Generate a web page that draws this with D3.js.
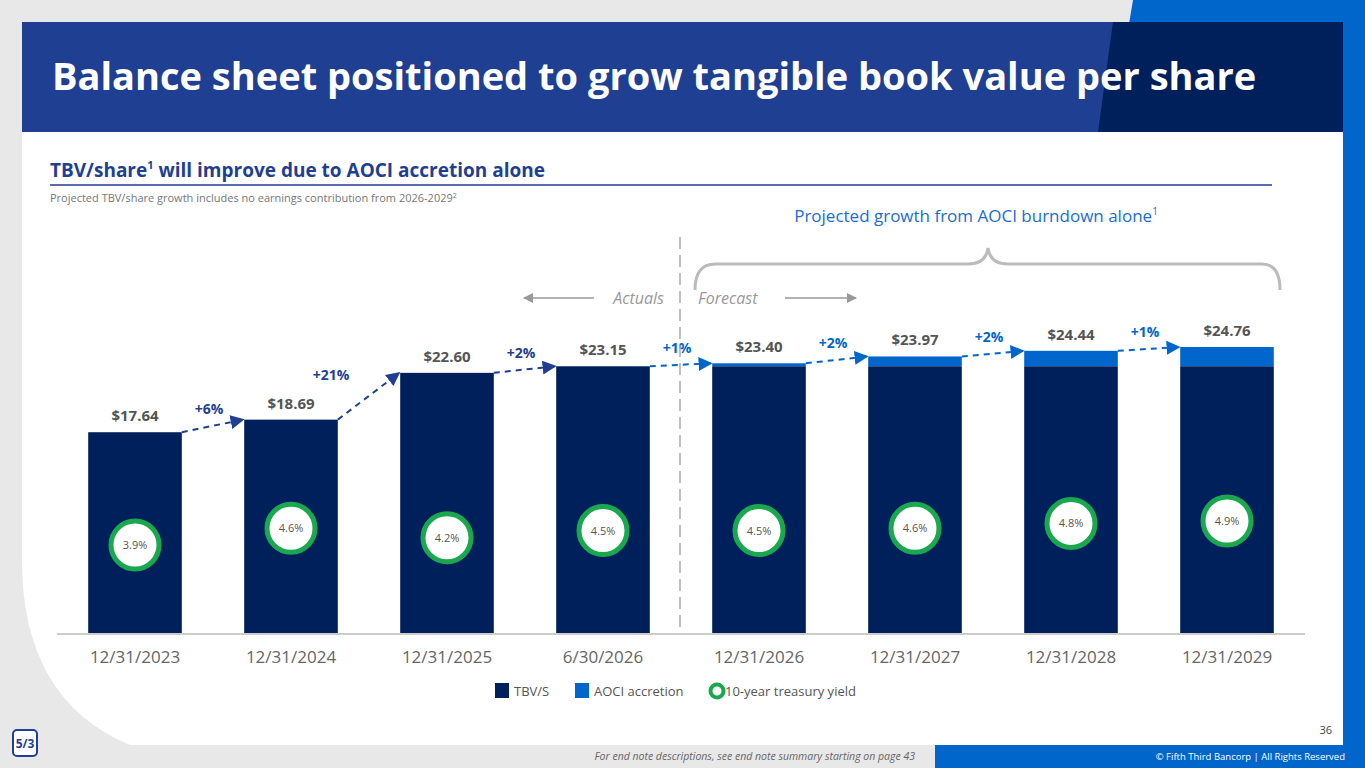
<!DOCTYPE html>
<html><head><meta charset="utf-8">
<script src="https://cdn.jsdelivr.net/npm/d3@7"></script>
<style>body{margin:0;background:#e8e8e8;font-family:"Open Sans",sans-serif}</style>
</head><body><div id="chart"></div>
<script>
// Data
const periods = ["12/31/2023","12/31/2024","12/31/2025","6/30/2026","12/31/2026","12/31/2027","12/31/2028","12/31/2029"];
const tbvs = [17.64, 18.69, 22.60, 23.15, 23.15, 23.15, 23.15, 23.15];
const totals = [17.64, 18.69, 22.60, 23.15, 23.40, 23.97, 24.44, 24.76];
const valueLabels = ["$17.64","$18.69","$22.60","$23.15","$23.40","$23.97","$24.44","$24.76"];
const growth = ["+6%","+21%","+2%","+1%","+2%","+2%","+1%"];
const yields = [3.9, 4.6, 4.2, 4.5, 4.5, 4.6, 4.8, 4.9];

const W = 1365, H = 768;
const navy = "#00205b", blue = "#0066cc", green = "#1aa84f", grey = "#666";
const svg = d3.select("#chart").append("svg").attr("width", W).attr("height", H);

svg.append("defs").selectAll("marker").data([["arNavy", "#1f3f93"], ["arBlue", blue], ["arGrey", "#999"]])
  .enter().append("marker").attr("id", d => d[0]).attr("viewBox", "0 0 10 10")
  .attr("refX", 9).attr("refY", 5).attr("markerWidth", 7).attr("markerHeight", 7).attr("orient", "auto")
  .append("path").attr("d", "M0,0L10,5L0,10z").attr("fill", d => d[1]);

// slide frame
svg.append("rect").attr("width", W).attr("height", H).attr("fill", "#e8e8e8");
svg.append("path").attr("d", "M1133,0L1365,0L1365,30L1128,30z").attr("fill", blue);
svg.append("rect").attr("x", 1340).attr("y", 0).attr("width", 25).attr("height", H).attr("fill", blue);
svg.append("rect").attr("x", 935).attr("y", 744).attr("width", 430).attr("height", 24).attr("fill", blue);
svg.append("path").attr("d", "M22,22L1343,22L1343,745L130,745Q22,700 22,560z").attr("fill", "#fff");
svg.append("rect").attr("x", 22).attr("y", 22).attr("width", 1321).attr("height", 110).attr("fill", "#1f3f93");
svg.append("path").attr("d", "M1113,22L1343,22L1343,132L1098,132z").attr("fill", navy);
svg.append("text").attr("x", 52).attr("y", 90).attr("fill", "#fff").attr("font-size", 38).attr("font-weight", 700)
  .text("Balance sheet positioned to grow tangible book value per share");

const sub = svg.append("text").attr("x", 50).attr("y", 177).attr("fill", "#1f3f93").attr("font-size", 19).attr("font-weight", 700);
sub.append("tspan").text("TBV/share");
sub.append("tspan").attr("font-size", 11).attr("dy", -8).text("1");
sub.append("tspan").attr("dy", 8).text(" will improve due to AOCI accretion alone");
svg.append("line").attr("x1", 50).attr("x2", 1272).attr("y1", 185).attr("y2", 185).attr("stroke", "#5b6bb0").attr("stroke-width", 2);
const note = svg.append("text").attr("x", 50).attr("y", 202).attr("fill", "#777").attr("font-size", 11);
note.append("tspan").text("Projected TBV/share growth includes no earnings contribution from 2026-2029");
note.append("tspan").attr("font-size", 7).attr("dy", -4).text("2");

// scales
const x = d3.scaleBand().domain(periods).range([57, 1305]).paddingInner(0.4).paddingOuter(0.2);
const y = d3.scaleLinear().domain([0.78, 24.76]).range([634, 347]);
const ry = d3.scaleLinear().domain([3.9, 4.9]).range([545, 521]);

// bars
svg.selectAll(".aoci").data(periods).enter().append("rect")
  .attr("x", d => x(d)).attr("width", x.bandwidth())
  .attr("y", (d, i) => y(totals[i])).attr("height", (d, i) => y(tbvs[i]) - y(totals[i])).attr("fill", blue);
svg.selectAll(".tbv").data(periods).enter().append("rect")
  .attr("x", d => x(d)).attr("width", x.bandwidth())
  .attr("y", (d, i) => y(tbvs[i])).attr("height", (d, i) => y.range()[0] - y(tbvs[i])).attr("fill", navy);

svg.append("line").attr("x1", 57).attr("x2", 1305).attr("y1", 634).attr("y2", 634).attr("stroke", "#ccc").attr("stroke-width", 2);
svg.selectAll(".xl").data(periods).enter().append("text")
  .attr("x", d => x(d) + x.bandwidth() / 2).attr("y", 663).attr("text-anchor", "middle")
  .attr("fill", grey).attr("font-size", 17).text(d => d);

svg.selectAll(".vl").data(periods).enter().append("text")
  .attr("x", d => x(d) + x.bandwidth() / 2).attr("y", (d, i) => y(totals[i]) - 11).attr("text-anchor", "middle")
  .attr("fill", "#555").attr("font-size", 15).attr("font-weight", 700).text((d, i) => valueLabels[i]);

// growth arrows
growth.forEach((g, i) => {
  const x1 = x(periods[i]) + x.bandwidth(), x2 = x(periods[i + 1]);
  const y1 = y(totals[i]), y2 = y(totals[i + 1]);
  const fc = i < 3;
  svg.append("line").attr("x1", x1).attr("y1", y1).attr("x2", x2 - 1).attr("y2", y2)
    .attr("stroke", fc ? "#1f3f93" : blue).attr("stroke-width", 2).attr("stroke-dasharray", "6,5")
    .attr("marker-end", fc ? "url(#arNavy)" : "url(#arBlue)");
  svg.append("text").attr("x", (x1 + x2) / 2 - (i === 1 ? 38 : 4)).attr("y", (y1 + y2) / 2 - (i === 1 ? 16 : 12))
    .attr("text-anchor", "middle").attr("fill", fc ? "#1f3f93" : blue)
    .attr("font-size", 14).attr("font-weight", 700).text(g);
});

// treasury yield rings
svg.selectAll(".ring").data(yields).enter().append("circle")
  .attr("cx", (d, i) => x(periods[i]) + x.bandwidth() / 2).attr("cy", d => ry(d)).attr("r", 24)
  .attr("fill", "#fff").attr("stroke", green).attr("stroke-width", 5);
svg.selectAll(".rl").data(yields).enter().append("text")
  .attr("x", (d, i) => x(periods[i]) + x.bandwidth() / 2).attr("y", d => ry(d) + 4).attr("text-anchor", "middle")
  .attr("fill", "#555").attr("font-size", 11).text(d => d.toFixed(1) + "%");

// actuals / forecast divider
svg.append("line").attr("x1", 680).attr("x2", 680).attr("y1", 237).attr("y2", 632)
  .attr("stroke", "#aaa").attr("stroke-width", 1.5).attr("stroke-dasharray", "12,6");
svg.append("text").attr("x", 664).attr("y", 304).attr("text-anchor", "end").attr("fill", "#999")
  .attr("font-size", 16).attr("font-style", "italic").text("Actuals");
svg.append("text").attr("x", 698).attr("y", 304).attr("fill", "#999")
  .attr("font-size", 16).attr("font-style", "italic").text("Forecast");
svg.append("line").attr("x1", 594).attr("x2", 524).attr("y1", 298).attr("y2", 298).attr("stroke", "#999").attr("stroke-width", 1.5).attr("marker-end", "url(#arGrey)");
svg.append("line").attr("x1", 785).attr("x2", 856).attr("y1", 298).attr("y2", 298).attr("stroke", "#999").attr("stroke-width", 1.5).attr("marker-end", "url(#arGrey)");

// brace
svg.append("path").attr("d", "M695,290Q695,264 715,264L968,264Q986,264 988,248Q990,264 1008,264L1262,264Q1280,264 1280,290")
  .attr("fill", "none").attr("stroke", "#bbb").attr("stroke-width", 3);
const pg = svg.append("text").attr("x", 976).attr("y", 222).attr("text-anchor", "middle").attr("fill", "#1a6ecf").attr("font-size", 17);
pg.append("tspan").text("Projected growth from AOCI burndown alone");
pg.append("tspan").attr("font-size", 10).attr("dy", -7).text("1");

// legend
const lg = svg.append("g").attr("transform", "translate(495,683)");
lg.append("rect").attr("width", 14).attr("height", 15).attr("fill", navy);
lg.append("text").attr("x", 19).attr("y", 13).attr("fill", "#555").attr("font-size", 13).text("TBV/S");
lg.append("rect").attr("x", 80).attr("width", 14).attr("height", 15).attr("fill", blue);
lg.append("text").attr("x", 99).attr("y", 13).attr("fill", "#555").attr("font-size", 13).text("AOCI accretion");
lg.append("circle").attr("cx", 222).attr("cy", 8).attr("r", 6.5).attr("fill", "#fff").attr("stroke", green).attr("stroke-width", 4);
lg.append("text").attr("x", 230).attr("y", 13).attr("fill", "#555").attr("font-size", 13).text("10-year treasury yield");

// footer
svg.append("text").attr("x", 1332).attr("y", 734).attr("text-anchor", "end").attr("fill", "#444").attr("font-size", 11).text("36");
svg.append("text").attr("x", 915).attr("y", 760).attr("text-anchor", "end").attr("fill", "#666").attr("font-size", 10.5)
  .attr("font-style", "italic").text("For end note descriptions, see end note summary starting on page 43");
svg.append("text").attr("x", 1345).attr("y", 760).attr("text-anchor", "end").attr("fill", "#fff").attr("font-size", 9.5)
  .text("© Fifth Third Bancorp | All Rights Reserved");
svg.append("rect").attr("x", 13).attr("y", 730).attr("width", 24).attr("height", 26).attr("rx", 4)
  .attr("fill", "#fff").attr("stroke", "#1f3f93").attr("stroke-width", 2);
svg.append("text").attr("x", 25).attr("y", 748).attr("text-anchor", "middle").attr("fill", "#1f3f93")
  .attr("font-size", 12).attr("font-weight", 700).text("5/3");
</script></body></html>
